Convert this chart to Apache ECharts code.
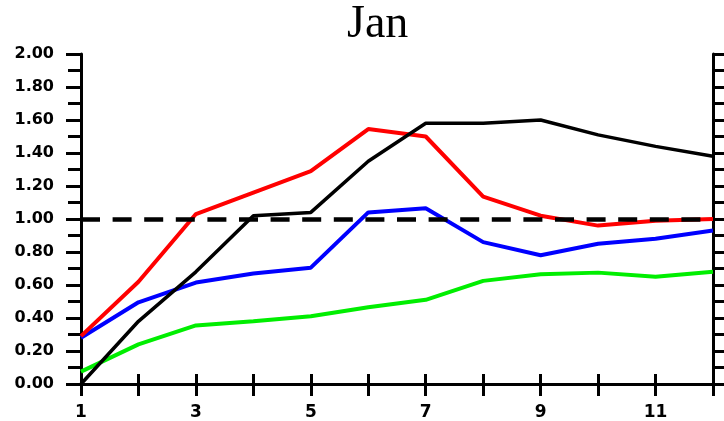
<!DOCTYPE html>
<html>
<head>
<meta charset="utf-8">
<script src="https://cdn.jsdelivr.net/npm/echarts@6/dist/echarts.min.js"></script>
<style>
html,body{margin:0;padding:0;background:#fff;}
#chart{width:724px;height:421px;}
</style>
</head>
<body>
<div id="chart"></div>
<script>
const titleText = 'Jan';
const months = [1, 2, 3, 4, 5, 6, 7, 8, 9, 10, 11, 12];
const blackValues = [0.00, 0.38, 0.68, 1.02, 1.04, 1.35, 1.58, 1.58, 1.60, 1.51, 1.44, 1.38];
const redValues   = [0.29, 0.62, 1.03, 1.16, 1.29, 1.545, 1.50, 1.135, 1.02, 0.96, 0.99, 1.00];
const blueValues  = [0.28, 0.495, 0.615, 0.67, 0.705, 1.04, 1.065, 0.86, 0.78, 0.85, 0.88, 0.93];
const greenValues = [0.075, 0.24, 0.355, 0.38, 0.41, 0.465, 0.51, 0.625, 0.665, 0.675, 0.65, 0.68];
const referenceValue = 1.0;
const yTickLabels = ['0.00','0.20','0.40','0.60','0.80','1.00','1.20','1.40','1.60','1.80','2.00'];

const pairs = vals => months.map((m, i) => [m, vals[i]]);

const chart = echarts.init(document.getElementById('chart'), null, {renderer: 'canvas'});

const axisLineStyle = {color: '#000', width: 3};
const xBase = {
  type: 'value', min: 1, max: 12, interval: 1,
  splitLine: {show: false},
  axisLine: {show: true, lineStyle: axisLineStyle},
};
const yBase = {
  type: 'value', min: 0, max: 2, interval: 0.2,
  splitLine: {show: false},
  axisLine: {show: true, lineStyle: axisLineStyle},
  minorTick: {show: true, splitNumber: 2, length: 13, lineStyle: {color: '#000', width: 3}},
  minorSplitLine: {show: false}
};

const lineSeries = (name, vals, color, width, z) => ({
  name, type: 'line', data: pairs(vals), symbol: 'none', xAxisIndex: 0, yAxisIndex: 0,
  lineStyle: {color, width}, z, animation: false
});

chart.setOption({
  animation: false,
  backgroundColor: '#fff',
  title: {
    text: titleText, left: 342, top: -3,
    textStyle: {fontFamily: 'Liberation Serif', fontSize: 46, fontWeight: 'normal', color: '#000'}
  },
  grid: {left: 81, right: 11, top: 54, bottom: 37},
  xAxis: [
    Object.assign({}, xBase, {
      position: 'bottom',
      axisTick: {show: true, length: 12, lineStyle: {color: '#000', width: 3}},
      axisLabel: {
        show: true, margin: 20, color: '#000', fontFamily: 'DejaVu Sans', fontWeight: 'bold', fontSize: 17,
        formatter: v => (months.indexOf(v) % 2 === 0 ? String(v) : '')
      }
    }),
    Object.assign({}, xBase, {
      position: 'top',
      axisTick: {show: true, length: 10, lineStyle: {color: '#000', width: 3}},
      axisLabel: {show: false}
    })
  ],
  yAxis: [
    Object.assign({}, yBase, {
      position: 'left',
      axisTick: {show: true, length: 15, lineStyle: {color: '#000', width: 3}},
      axisLabel: {
        show: true, margin: 27, color: '#000', fontFamily: 'DejaVu Sans', fontWeight: 'bold', fontSize: 16,
        formatter: v => yTickLabels[Math.round(v / 0.2)]
      }
    }),
    Object.assign({}, yBase, {
      position: 'right',
      axisTick: {show: true, length: 11, lineStyle: {color: '#000', width: 3}},
      minorTick: {show: true, splitNumber: 2, length: 11, lineStyle: {color: '#000', width: 3}},
      axisLabel: {show: false}
    })
  ],
  series: [
    lineSeries('green', greenValues, '#00ee00', 4, 2),
    lineSeries('blue', blueValues, '#0000ff', 4, 3),
    lineSeries('red', redValues, '#ff0000', 4, 4),
    lineSeries('black', blackValues, '#000000', 3.5, 5),
    {
      name: 'ref', type: 'line', data: [], symbol: 'none', z: 6, silent: true,
      markLine: {
        silent: true, symbol: ['none', 'none'], label: {show: false},
        lineStyle: {color: '#000', width: 4.5, type: [19, 12.6]},
        data: [{yAxis: referenceValue}]
      }
    }
  ]
});
</script>
</body>
</html>
